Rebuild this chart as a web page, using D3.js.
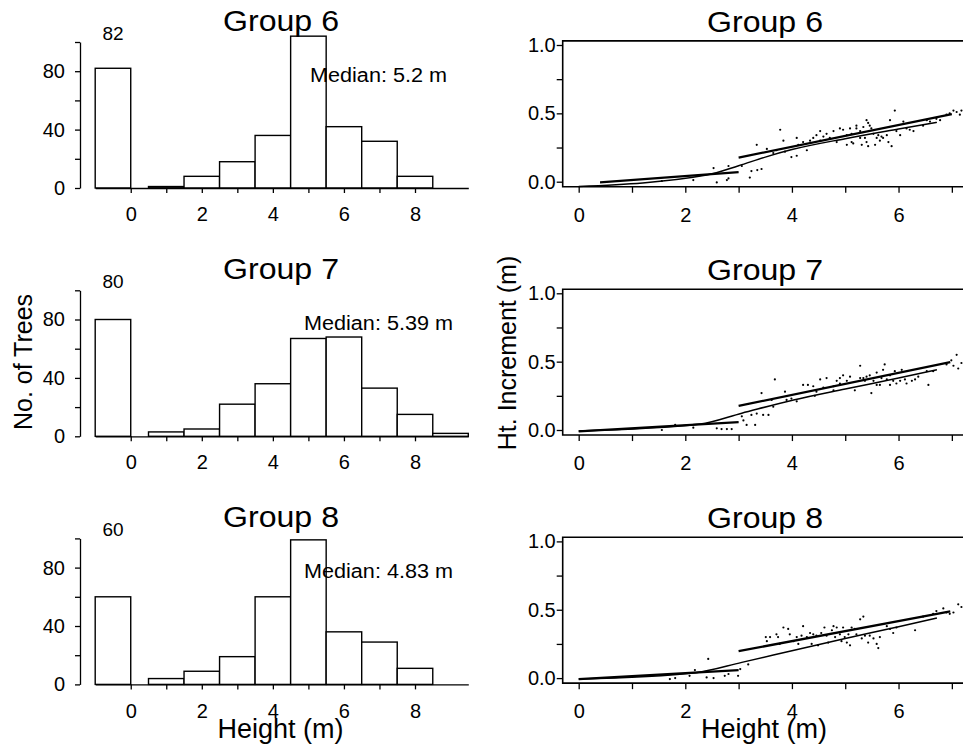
<!DOCTYPE html>
<html>
<head>
<meta charset="utf-8">
<script src="https://cdn.jsdelivr.net/npm/d3@7"></script>
<style>
  body { margin: 0; background: #fff; }
  svg { display: block; font-family: 'Liberation Sans', Arial, sans-serif; }
  .axis path, .axis line { stroke: #000; stroke-width: 1.3; }
  .axis text { fill: #000; font-size: 20px; }
</style>
</head>
<body>
<div id="fig"><svg></svg></div>
<script>
// chart values
const groupNames = ['Group 6', 'Group 7', 'Group 8']
const zeroCounts = [82, 80, 60]
const medianLabels = ['Median: 5.2 m', 'Median: 5.39 m', 'Median: 4.83 m']
const binCenters = [1, 2, 3, 4, 5, 6, 7, 8, 9]
const counts6 = [1, 8, 18, 36, 104, 42, 32, 8, 0]
const counts7 = [3, 5, 22, 36, 67, 68, 33, 15, 2]
const counts8 = [4, 9, 19, 60, 99, 36, 29, 11, 0]
const histTicks = [0, 1, 2, 3, 4, 5, 6, 7, 8]
const countTicks = [0, 20, 40, 60, 80, 100]
const incTicks = [0, 0.25, 0.5, 0.75, 1]
const heightTicks = [0, 1, 2, 3, 4, 5, 6, 7]

// fitted lines (height, increment)
const curve6 = [[0, -0.035], [2.4, 0.049], [3.0, 0.117], [3.5, 0.18], [4, 0.235], [5, 0.315], [6, 0.385], [6.72, 0.434]]
const small6 = [[0.4, -0.005], [3.0, 0.07]]
const large6 = [[3.0, 0.176], [7.0, 0.495]]
const curve7 = [[0, -0.007], [2.28, 0.044], [3.06, 0.123], [4.03, 0.22], [5, 0.3], [6, 0.38], [6.72, 0.44]]
const small7 = [[0, -0.01], [3.0, 0.058]]
const large7 = [[3.0, 0.176], [6.97, 0.497]]
const curve8 = [[0, -0.007], [2.2, 0.04], [3.06, 0.115], [4, 0.2], [5, 0.29], [6, 0.375], [6.72, 0.44]]
const small8 = [[0, -0.008], [3.0, 0.058]]
const large8 = [[3.0, 0.197], [6.97, 0.488]]

// observed trees (height, increment)
const pts6 = [[1.56, 0.005], [2.15, 0.012], [2.59, -0.005], [2.78, 0.012], [2.81, 0.024], [2.53, 0.10], [2.81, 0.115],
  [3.21, 0.03], [3.24, 0.078], [3.35, 0.085], [3.43, 0.093], [3.06, 0.115], [3.34, 0.27], [3.78, 0.38], [3.84, 0.30],
  [3.53, 0.24], [3.65, 0.21], [3.99, 0.18], [4.09, 0.19], [4.09, 0.32], [4.12, 0.27], [4.21, 0.29], [4.34, 0.30],
  [4.40, 0.32], [4.46, 0.34], [4.53, 0.37], [4.59, 0.33], [4.65, 0.35], [4.71, 0.32], [4.78, 0.37], [4.84, 0.29],
  [4.90, 0.39], [4.96, 0.38], [5.03, 0.34], [5.09, 0.39], [5.12, 0.29], [5.15, 0.28], [5.21, 0.39], [5.28, 0.37],
  [5.31, 0.27], [5.34, 0.40], [5.37, 0.32], [5.40, 0.45], [5.43, 0.43], [5.46, 0.41], [5.49, 0.39], [5.53, 0.35],
  [5.56, 0.27], [5.59, 0.32], [5.62, 0.34], [5.65, 0.30], [5.68, 0.33], [5.71, 0.32], [5.78, 0.34], [5.81, 0.29],
  [5.84, 0.45], [5.87, 0.26], [5.93, 0.52], [5.96, 0.37], [6.03, 0.34], [6.09, 0.44], [6.15, 0.39], [6.21, 0.38],
  [6.28, 0.37], [6.46, 0.41], [6.53, 0.45], [6.59, 0.44], [6.71, 0.46], [6.78, 0.45], [6.90, 0.49], [6.96, 0.50],
  [7.03, 0.52], [7.09, 0.51], [7.15, 0.49], [7.18, 0.52], [5.21, 0.41], [5.28, 0.32], [5.40, 0.29], [5.43, 0.26],
  [5.03, 0.27], [5.12, 0.35], [4.53, 0.30], [4.28, 0.23], [3.71, 0.23], [3.87, 0.22]]
const pts7 = [[1.56, 0], [1.81, 0.037], [2.15, 0.017], [2.59, 0.012], [2.68, 0.007], [2.78, 0.007], [2.87, 0.007],
  [3.09, 0.07], [3.06, 0.10], [3.15, 0.037], [3.31, 0.037], [3.24, 0.11], [3.34, 0.12], [3.46, 0.11], [3.56, 0.11],
  [3.43, 0.27], [3.68, 0.37], [3.62, 0.22], [3.65, 0.17], [3.87, 0.28], [3.90, 0.22], [3.99, 0.23], [4.09, 0.21],
  [4.21, 0.33], [4.30, 0.33], [4.40, 0.32], [4.43, 0.25], [4.53, 0.37], [4.59, 0.31], [4.65, 0.38], [4.78, 0.32],
  [4.84, 0.36], [4.90, 0.38], [4.96, 0.40], [5.03, 0.36], [5.09, 0.39], [5.18, 0.29], [5.28, 0.47], [5.34, 0.38],
  [5.40, 0.39], [5.46, 0.40], [5.49, 0.27], [5.53, 0.36], [5.59, 0.42], [5.65, 0.33], [5.71, 0.44], [5.74, 0.48],
  [5.78, 0.37], [5.84, 0.40], [5.90, 0.36], [5.93, 0.43], [5.96, 0.34], [6.03, 0.36], [6.06, 0.44], [6.12, 0.37],
  [6.15, 0.34], [6.25, 0.36], [6.31, 0.37], [6.37, 0.39], [6.53, 0.43], [6.56, 0.33], [6.65, 0.43], [6.90, 0.48],
  [6.99, 0.51], [7.03, 0.47], [7.09, 0.55], [7.12, 0.45], [7.18, 0.49], [4.90, 0.34], [5.28, 0.38], [5.37, 0.36],
  [5.59, 0.33], [5.68, 0.38], [5.84, 0.33], [4.78, 0.29], [4.46, 0.28]]
const pts8 = [[1.71, -0.007], [1.81, 0], [2.08, 0.017], [2.18, 0.059], [2.40, 0.005], [2.43, 0.14], [2.53, 0],
  [2.74, 0.017], [2.81, 0.03], [2.99, 0.017], [3.03, 0.066], [3.18, 0.10], [3.51, 0.30], [3.53, 0.27], [3.59, 0.30],
  [3.71, 0.32], [3.74, 0.30], [3.77, 0.25], [3.84, 0.37], [3.93, 0.36], [3.96, 0.32], [4.03, 0.27], [4.09, 0.30],
  [4.12, 0.25], [4.21, 0.38], [4.18, 0.31], [4.28, 0.30], [4.34, 0.33], [4.37, 0.25], [4.40, 0.32], [4.46, 0.31],
  [4.49, 0.24], [4.55, 0.33], [4.61, 0.37], [4.65, 0.31], [4.68, 0.26], [4.75, 0.35], [4.78, 0.38], [4.81, 0.30],
  [4.84, 0.37], [4.90, 0.32], [4.93, 0.27], [4.96, 0.37], [4.99, 0.30], [5.03, 0.26], [5.06, 0.32], [5.09, 0.24],
  [5.12, 0.37], [5.18, 0.36], [5.21, 0.32], [5.28, 0.43], [5.31, 0.29], [5.34, 0.45], [5.37, 0.31], [5.43, 0.26],
  [5.46, 0.31], [5.53, 0.29], [5.59, 0.25], [5.62, 0.22], [5.65, 0.30], [5.78, 0.38], [5.84, 0.36], [5.90, 0.33],
  [5.96, 0.37], [6.31, 0.35], [6.46, 0.45], [6.65, 0.47], [6.71, 0.49], [6.84, 0.51], [6.90, 0.48], [6.96, 0.47],
  [7.03, 0.48], [7.12, 0.54], [7.18, 0.52]]

const histCounts = [counts6, counts7, counts8]
const curves = [curve6, curve7, curve8]
const smallFits = [small6, small7, small8]
const largeFits = [large6, large7, large8]
const points = [pts6, pts7, pts8]
const medianWidths = [137, 149, 149]

const panelDy = [0, 248.3, 496.4]

const svg = d3.select('#fig svg')
  .attr('width', 963)
  .attr('height', 748)

/**
 * Histogram of tree heights for one group (left column).
 */
function drawHistogram (i) {
  const dy = panelDy[i]
  const g = svg.append('g').attr('class', 'hist')
  const x = d3.scaleLinear().domain([-1, 9.5]).range([95.2, 468.3])
  const y = d3.scaleLinear().domain([0, 100]).range([188 + dy, 42 + dy])

  const bins = binCenters.map((c, k) => ({ x0: c - 0.5, x1: c + 0.5, n: histCounts[i][k] }))
  bins.unshift({ x0: -1, x1: 0, n: zeroCounts[i] })

  g.selectAll('rect')
    .data(bins.filter(d => d.n > 0))
    .join('rect')
    .attr('x', d => x(d.x0))
    .attr('y', d => y(d.n))
    .attr('width', d => x(d.x1) - x(d.x0))
    .attr('height', d => y(0) - y(d.n))
    .attr('fill', '#fff')
    .attr('stroke', '#000')
    .attr('stroke-width', 1.4)

  g.append('g')
    .attr('class', 'axis')
    .attr('transform', `translate(80,0)`)
    .call(d3.axisLeft(y).tickValues(countTicks).tickSize(5).tickSizeOuter(0).tickPadding(10)
      .tickFormat(d => d % 40 === 0 ? d : ''))

  g.append('g')
    .attr('class', 'axis')
    .attr('transform', `translate(0,${y(0)})`)
    .call(d3.axisBottom(x).tickValues(histTicks).tickSize(5).tickSizeOuter(0).tickPadding(14)
      .tickFormat(d => d % 2 === 0 ? d : ''))

  g.append('text')
    .attr('x', x(-0.5))
    .attr('y', 40 + dy)
    .attr('text-anchor', 'middle')
    .attr('font-size', 19)
    .text(zeroCounts[i])

  g.append('text')
    .attr('x', i === 0 ? 310 : 304)
    .attr('y', 81.5 + dy)
    .attr('font-size', 20)
    .attr('textLength', medianWidths[i])
    .attr('lengthAdjust', 'spacingAndGlyphs')
    .text(medianLabels[i])

  g.append('text')
    .attr('x', 281)
    .attr('y', 31 + dy)
    .attr('text-anchor', 'middle')
    .attr('font-size', 29)
    .attr('textLength', 116)
    .attr('lengthAdjust', 'spacingAndGlyphs')
    .text(groupNames[i])
}

/**
 * Height increment against height for one group (right column).
 */
function drawScatter (i) {
  const dy = panelDy[i]
  const g = svg.append('g').attr('class', 'scatter')
  const x = d3.scaleLinear().domain([-0.3, 7.5]).range([562.7, 978.5])
  const y = d3.scaleLinear().domain([0, 1]).range([181.7 + dy, 45 + dy])

  const top = y(1.03)
  const bottom = y(-0.037)

  g.append('g')
    .attr('class', 'axis')
    .attr('transform', `translate(${x(-0.3)},0)`)
    .call(d3.axisLeft(y).tickValues(incTicks).tickSize(6).tickPadding(1)
      .tickFormat(d => d === 0.25 || d === 0.75 ? '' : d3.format('.1f')(d)))
    .call(a => a.selectAll('text').attr('font-size', 21))
    .select('.domain').remove()

  g.append('g')
    .attr('class', 'axis')
    .attr('transform', `translate(0,${bottom})`)
    .call(d3.axisBottom(x).tickValues(heightTicks).tickSize(6).tickPadding(15)
      .tickFormat(d => d % 2 === 0 ? d : ''))
    .select('.domain').remove()

  // frame: left, top and bottom edges (right edge falls outside the picture)
  g.append('path')
    .attr('d', `M975,${top}H${x(-0.3)}V${bottom}H975`)
    .attr('fill', 'none')
    .attr('stroke', '#000')
    .attr('stroke-width', 1.6)

  g.selectAll('circle')
    .data(points[i])
    .join('circle')
    .attr('cx', d => x(d[0]))
    .attr('cy', d => y(d[1]))
    .attr('r', 1.1)
    .attr('fill', '#000')

  const line = d3.line().x(d => x(d[0])).y(d => y(d[1]))

  g.append('path')
    .attr('d', line.curve(d3.curveMonotoneX)(curves[i]))
    .attr('fill', 'none')
    .attr('stroke', '#000')
    .attr('stroke-width', 1.5)

  ;[smallFits[i], largeFits[i]].forEach(seg => {
    g.append('path')
      .attr('d', d3.line().x(d => x(d[0])).y(d => y(d[1]))(seg))
      .attr('fill', 'none')
      .attr('stroke', '#000')
      .attr('stroke-width', 2.3)
  })

  g.append('text')
    .attr('x', 765)
    .attr('y', 31.5 + dy)
    .attr('text-anchor', 'middle')
    .attr('font-size', 29)
    .attr('textLength', 116)
    .attr('lengthAdjust', 'spacingAndGlyphs')
    .text(groupNames[i])
}

groupNames.forEach((name, i) => {
  drawHistogram(i)
  drawScatter(i)
})

// shared axis titles
svg.append('text')
  .attr('transform', 'translate(32,362) rotate(-90)')
  .attr('text-anchor', 'middle')
  .attr('font-size', 25)
  .text('No. of Trees')

svg.append('text')
  .attr('transform', 'translate(516,353) rotate(-90)')
  .attr('text-anchor', 'middle')
  .attr('font-size', 25)
  .text('Ht. Increment (m)')

svg.append('text')
  .attr('x', 280.5)
  .attr('y', 738)
  .attr('text-anchor', 'middle')
  .attr('font-size', 27)
  .text('Height (m)')

svg.append('text')
  .attr('x', 764)
  .attr('y', 738)
  .attr('text-anchor', 'middle')
  .attr('font-size', 27)
  .text('Height (m)')
</script>
</body>
</html>
